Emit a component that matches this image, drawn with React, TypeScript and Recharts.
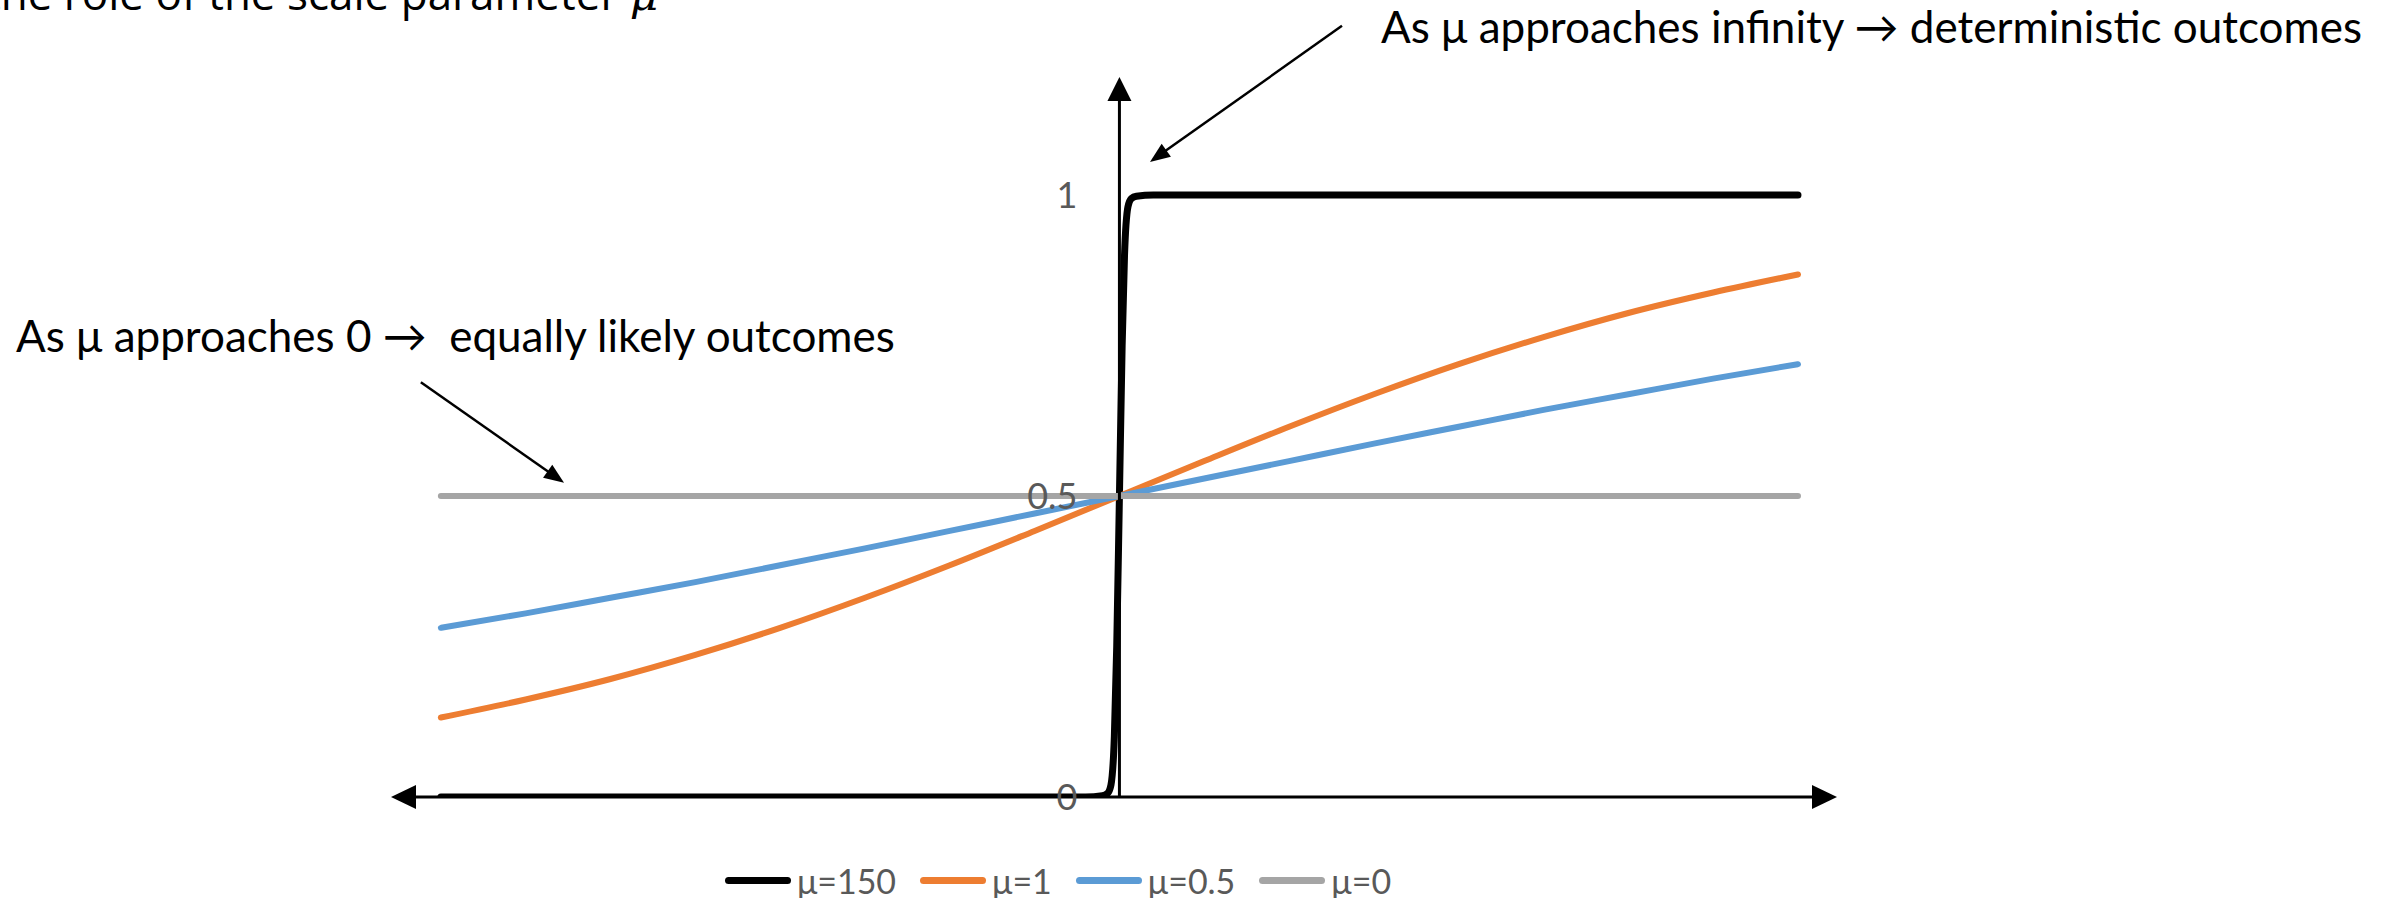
import React from 'react';
import { LineChart, Line, XAxis, YAxis, ReferenceLine, ReferenceDot, Legend } from 'recharts';

// x positions for the smooth curves
const xs = [-2, -1.75, -1.5, -1.25, -1, -0.75, -0.5, -0.25, 0, 0.25, 0.5, 0.75, 1, 1.25, 1.5, 1.75, 2];
const mu1Values = [0.132, 0.162, 0.196, 0.236, 0.281, 0.331, 0.385, 0.442, 0.5, 0.558, 0.615, 0.669, 0.719, 0.764, 0.804, 0.838, 0.868];
const mu05Values = [0.281, 0.305, 0.331, 0.357, 0.385, 0.413, 0.442, 0.471, 0.5, 0.529, 0.558, 0.587, 0.615, 0.643, 0.669, 0.695, 0.719];
const mu0Values = [0.5, 0.5, 0.5, 0.5, 0.5, 0.5, 0.5, 0.5, 0.5, 0.5, 0.5, 0.5, 0.5, 0.5, 0.5, 0.5, 0.5];

// the steep curve needs more points around 0
const stepXs = [-2, -0.1, -0.05, -0.035, -0.025, -0.015, -0.008, 0, 0.008, 0.015, 0.025, 0.035, 0.05, 0.1, 2];
const mu150Values = [0, 0, 0.002, 0.006, 0.02, 0.1, 0.25, 0.5, 0.75, 0.9, 0.98, 0.994, 0.998, 1, 1];

const seriesNames = ['μ=150', 'μ=1', 'μ=0.5', 'μ=0'];
const seriesColors = ['#000000', '#ED7D31', '#5B9BD5', '#A5A5A5'];
const yTicks = [0, 0.5, 1];

// annotation arrows, in data units: [from, to]
const annotationArrows = [
  [{ x: 0.656, y: 1.281 }, { x: 0.09, y: 1.055 }],
  [{ x: -2.059, y: 0.689 }, { x: -1.637, y: 0.522 }],
];

const X_DOMAIN = [-2.147, 2.115];
const Y_DOMAIN = [0, 1.196];
const FONT = 'Lato, "Liberation Sans", sans-serif';

const curveData = xs.map((x, i) => ({ x, mu1: mu1Values[i], mu05: mu05Values[i], mu0: mu0Values[i] }));
const stepData = stepXs.map((x, i) => ({ x, mu150: mu150Values[i] }));

function arrowShape(lineW: number, head: number, headW: number, both: boolean) {
  return (p: any) => {
    const { x1, y1, x2, y2 } = p;
    const dx = x2 - x1;
    const dy = y2 - y1;
    const len = Math.hypot(dx, dy) || 1;
    const ux = dx / len;
    const uy = dy / len;
    const tri = (tx: number, ty: number, vx: number, vy: number) => {
      const bx = tx - vx * head;
      const by = ty - vy * head;
      const nx = (-vy * headW) / 2;
      const ny = (vx * headW) / 2;
      return `${tx},${ty} ${bx + nx},${by + ny} ${bx - nx},${by - ny}`;
    };
    const sx = both ? x1 + ux * head * 0.5 : x1;
    const sy = both ? y1 + uy * head * 0.5 : y1;
    return (
      <g>
        <line x1={sx} y1={sy} x2={x2 - ux * head * 0.5} y2={y2 - uy * head * 0.5} stroke="#000" strokeWidth={lineW} />
        <polygon points={tri(x2, y2, ux, uy)} fill="#000" />
        {both && <polygon points={tri(x1, y1, -ux, -uy)} fill="#000" />}
      </g>
    );
  };
}

const renderLegend = (props: any) => {
  const items = [...(props.payload || [])].sort(
    (a: any, b: any) => seriesNames.indexOf(a.value) - seriesNames.indexOf(b.value)
  );
  return (
    <div
      style={{
        display: 'flex',
        justifyContent: 'center',
        alignItems: 'center',
        height: 30,
        paddingRight: 112,
        fontFamily: FONT,
        fontSize: 34,
        color: '#595959',
      }}
    >
      {items.map((e: any, i: number) => (
        <div key={e.value} style={{ display: 'flex', alignItems: 'center', marginLeft: i ? 24 : 0 }}>
          <span style={{ display: 'inline-block', width: 66, height: 7, borderRadius: 4, background: e.color }} />
          <span style={{ marginLeft: 6 }}>{e.value}</span>
        </div>
      ))}
    </div>
  );
};

export default function App() {
  return (
    <div style={{ position: 'absolute', left: 0, top: 0, width: 2392, height: 898, background: '#fff' }}>
      <LineChart width={2392} height={898} margin={{ top: 77, right: 555, bottom: 71, left: 391 }}>
        <XAxis type="number" dataKey="x" domain={X_DOMAIN} allowDataOverflow hide />
        <YAxis type="number" domain={Y_DOMAIN} allowDataOverflow hide />
        <Line data={stepData} dataKey="mu150" name={seriesNames[0]} stroke={seriesColors[0]} strokeWidth={7}
          strokeLinecap="round" dot={false} activeDot={false} type="monotone" isAnimationActive={false} />
        <Line data={curveData} dataKey="mu1" name={seriesNames[1]} stroke={seriesColors[1]} strokeWidth={6}
          strokeLinecap="round" dot={false} activeDot={false} type="monotone" isAnimationActive={false} />
        <Line data={curveData} dataKey="mu05" name={seriesNames[2]} stroke={seriesColors[2]} strokeWidth={6}
          strokeLinecap="round" dot={false} activeDot={false} type="monotone" isAnimationActive={false} />
        <Line data={curveData} dataKey="mu0" name={seriesNames[3]} stroke={seriesColors[3]} strokeWidth={6}
          strokeLinecap="round" dot={false} activeDot={false} type="monotone" isAnimationActive={false} />
        <ReferenceLine segment={[{ x: X_DOMAIN[0], y: 0 }, { x: X_DOMAIN[1], y: 0 }]} ifOverflow="visible"
          shape={arrowShape(3, 25, 24, true)} />
        <ReferenceLine segment={[{ x: 0, y: 0 }, { x: 0, y: Y_DOMAIN[1] }]} ifOverflow="visible"
          shape={arrowShape(3, 24, 24, false)} />
        {annotationArrows.map((seg, i) => (
          <ReferenceLine key={i} segment={seg} ifOverflow="visible" shape={arrowShape(2.5, 20, 16, false)} />
        ))}
        {yTicks.map((t) => (
          <ReferenceDot key={t} x={0} y={t} r={0} fill="none" stroke="none" ifOverflow="visible"
            label={{ value: String(t), position: 'left', offset: 42, fill: '#595959', fontSize: 36, fontFamily: FONT }} />
        ))}
        <Legend content={renderLegend} verticalAlign="bottom" align="center" wrapperStyle={{ top: 865, bottom: 'auto' }} />
      </LineChart>
      <svg width={2392} height={898} style={{ position: 'absolute', left: 0, top: 0, pointerEvents: 'none' }}>
        <text x={-15} y={10} fontFamily='"Open Sans", sans-serif' fontSize={44} fill="#000">
          the role of the scale parameter <tspan fontStyle="italic" fontFamily='"DejaVu Serif", serif'>μ</tspan>
        </text>
        <text x={1381} y={43} fontFamily={FONT} fontSize={44} fill="#000" style={{ whiteSpace: 'pre' }}>
          As μ approaches infinity → deterministic outcomes
        </text>
        <text x={16} y={352} fontFamily={FONT} fontSize={44} fill="#000" style={{ whiteSpace: 'pre' }}>
          {'As μ approaches 0 →  equally likely outcomes'}
        </text>
      </svg>
    </div>
  );
}
